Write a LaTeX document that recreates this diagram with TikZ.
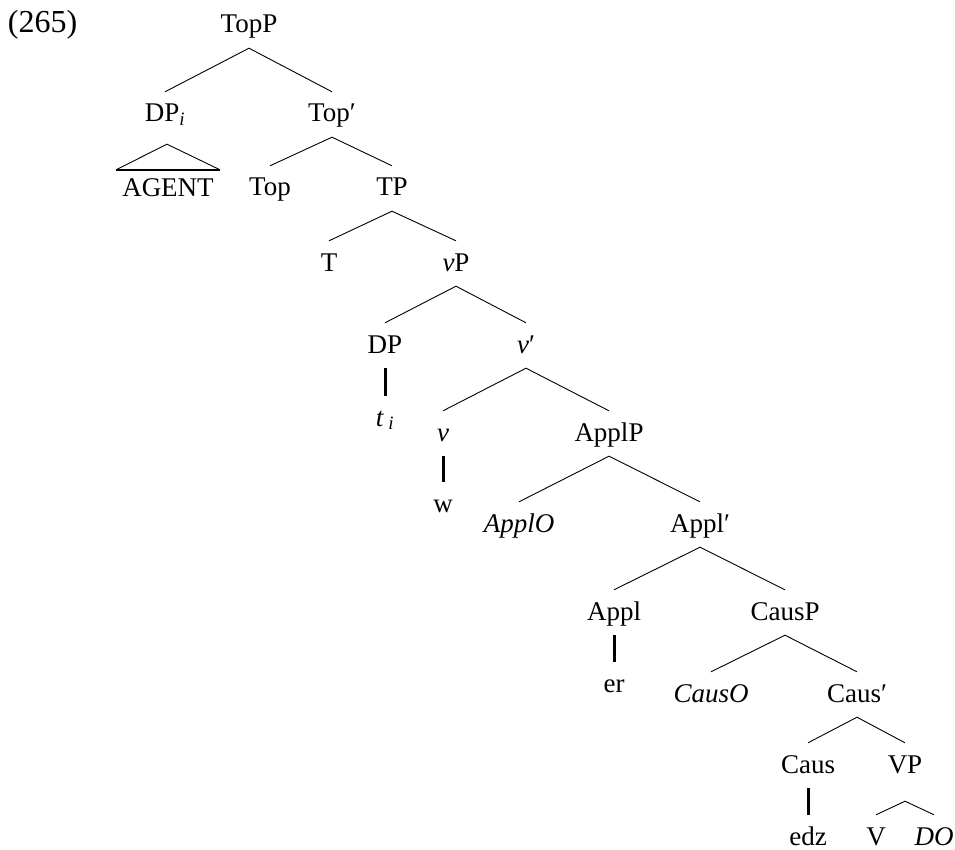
\documentclass[tikz,border=0pt]{standalone}
\usepackage{fontspec}
\setmainfont{Liberation Serif}
\tikzset{
  lbl/.style={anchor=base, inner sep=0pt, text height=30pt, text depth=15pt},
  br/.style={line width=0.9pt},
  bar/.style={line width=3pt},
  tribase/.style={line width=2.5pt},
}
\newcommand{\pr}{\char"2032}
\begin{document}
\begin{tikzpicture}[x=1pt, y=-1pt, font=\fontsize{27}{32}\selectfont]
\useasboundingbox (0,0) rectangle (955,850);
\node[anchor=base, inner sep=0pt, font=\fontsize{32}{36}\selectfont] (ex) at (42.5,33) {(265)};
\node[lbl] (TopP) at (249,33) {TopP};
\node[lbl] (DPi) at (165,122) {DP\textsubscript{\itshape i}};
\node[lbl] (Topb) at (332,122) {Top\pr};
\node[lbl] (AGENT) at (168,197) {AGENT};
\node[lbl] (Top) at (270,196) {Top};
\node[lbl] (TP) at (392,196) {TP};
\node[lbl] (T) at (329,271) {T};
\node[lbl] (vP) at (456,271) {\textit{v}P};
\node[lbl] (DP) at (385,353) {DP};
\node[lbl] (vb) at (526,353) {\textit{v}\pr};
\node[lbl] (ti) at (385,426) {\textit{t}\,\textsubscript{\itshape i}};
\node[lbl] (v) at (443,441) {\textit{v}};
\node[lbl] (ApplP) at (609,441) {ApplP};
\node[lbl] (w) at (443,512) {w};
\node[lbl] (ApplO) at (519,532) {\textit{ApplO}};
\node[lbl] (Applb) at (700,532) {Appl\pr};
\node[lbl] (Appl) at (614,620) {Appl};
\node[lbl] (CausP) at (785,620) {CausP};
\node[lbl] (er) at (614,692) {er};
\node[lbl] (CausO) at (711,702) {\textit{CausO}};
\node[lbl] (Causb) at (857,702) {Caus\pr};
\node[lbl] (Caus) at (808,773) {Caus};
\node[lbl] (VP) at (905,773) {VP};
\node[lbl] (edz) at (808,845) {edz};
\node[lbl] (V) at (876,845) {V};
\node[lbl] (DO) at (934,845) {\textit{DO}};
% branches
\draw[br] (DPi.north) -- (TopP.south) -- (Topb.north);
\draw[br] (Top.north) -- (Topb.south) -- (TP.north);
\draw[br] (T.north) -- (TP.south) -- (vP.north);
\draw[br] (DP.north) -- (vP.south) -- (vb.north);
\draw[br] (v.north) -- (vb.south) -- (ApplP.north);
\draw[br] (ApplO.north) -- (ApplP.south) -- (Applb.north);
\draw[br] (Appl.north) -- (Applb.south) -- (CausP.north);
\draw[br] (CausO.north) -- (CausP.south) -- (Causb.north);
\draw[br] (Caus.north) -- (Causb.south) -- (VP.north);
\draw[br] (V.north) -- ([yshift=-13pt]VP.south) -- (DO.north);
% bars
\draw[bar] (DP.south) -- (ti.north);
\draw[bar] (v.south) -- (w.north);
\draw[bar] (Appl.south) -- (er.north);
\draw[bar] (Caus.south) -- (edz.north);
% triangle
\coordinate (apex) at ([xshift=2pt, yshift=-7pt]DPi.south);
\coordinate (bl) at ([xshift=-52pt, yshift=-3pt]AGENT.north);
\coordinate (brt) at ([xshift=52pt, yshift=-3pt]AGENT.north);
\draw[br] (bl) -- (apex) -- (brt);
\draw[tribase] (bl) -- (brt);
\end{tikzpicture}
\end{document}
